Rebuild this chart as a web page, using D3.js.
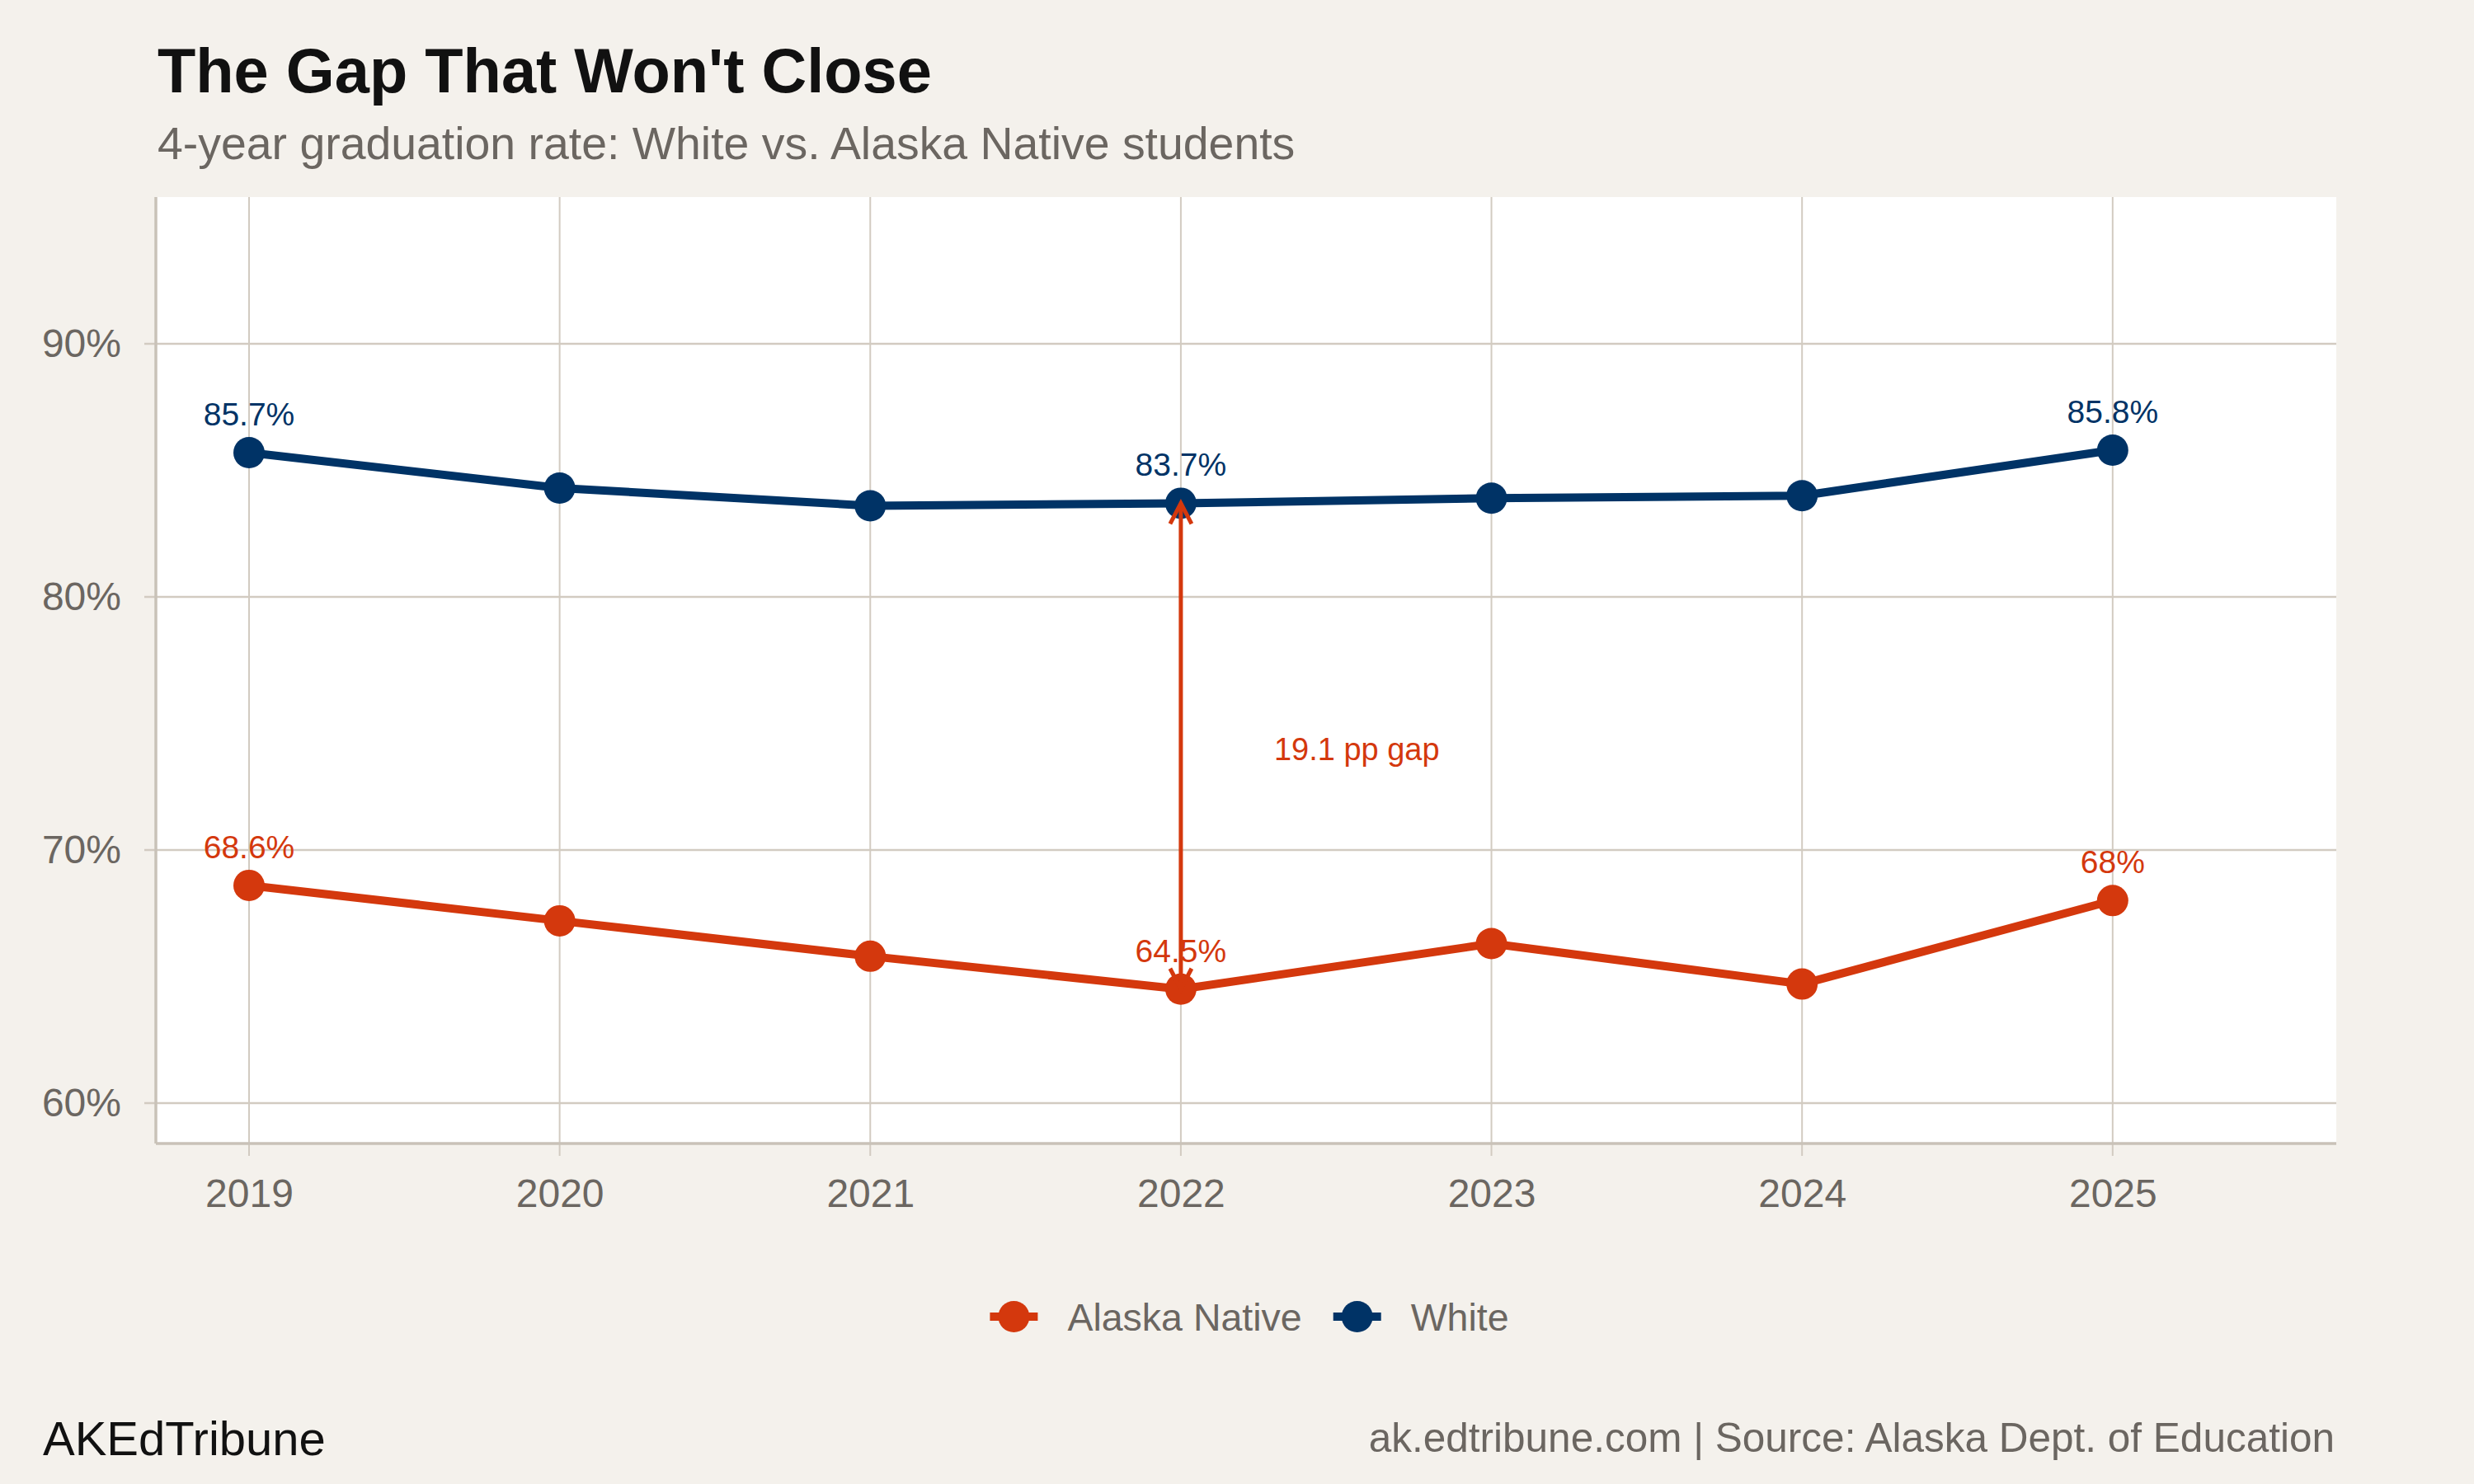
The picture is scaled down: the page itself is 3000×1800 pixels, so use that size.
<!DOCTYPE html>
<html>
<head>
<meta charset="utf-8">
<script src="https://cdn.jsdelivr.net/npm/d3@7"></script>
<style>
  body { margin: 0; background: #F4F1EC; }
  svg { display: block; font-family: "Liberation Sans", Arial, Helvetica, sans-serif; }
</style>
</head>
<body>
<svg id="chart" width="3000" height="1800"></svg>
<script>
// data
var years = [2019, 2020, 2021, 2022, 2023, 2024, 2025]
var whiteRates = [85.7, 84.3, 83.6, 83.7, 83.9, 84.0, 85.8]
var nativeRates = [68.6, 67.2, 65.8, 64.5, 66.3, 64.7, 68.0]
var labelYears = [2019, 2022, 2025]
var yTicks = [60, 70, 80, 90]
var seriesNames = ["Alaska Native", "White"]
var seriesColors = ["#D4380D", "#003366"]
var gapYear = 2022
var gapText = "19.1 pp gap"

var bg = "#F4F1EC"
var gridColor = "#D2CBC1"
var axisColor = "#C9C2B8"
var textGray = "#6B6661"

var margin = { top: 239, right: 167, bottom: 413, left: 189 }
var width = 3000, height = 1800
var chartWidth = width - margin.left - margin.right
var chartHeight = height - margin.top - margin.bottom

var svg = d3.select("#chart")
svg.append("rect").attr("width", width).attr("height", height).attr("fill", bg)

// titles
svg.append("text").attr("x", 191).attr("y", 112)
    .attr("font-size", 75.8).attr("font-weight", "bold").attr("fill", "#111")
    .text("The Gap That Won't Close")
svg.append("text").attr("x", 191).attr("y", 193)
    .attr("font-size", 55.4).attr("fill", textGray)
    .text("4-year graduation rate: White vs. Alaska Native students")

var g = svg.append("g").attr("transform", `translate(${margin.left}, ${margin.top})`)

g.append("rect").attr("width", chartWidth).attr("height", chartHeight).attr("fill", "#fff")

var xScale = d3.scaleLinear().domain([2018.7, 2025.72]).range([0, chartWidth])
var yScale = d3.scaleLinear().domain([58.4, 95.8]).range([chartHeight, 0])

// gridlines
g.append("g").selectAll("line").data(years).enter().append("line")
    .attr("x1", d => xScale(d)).attr("x2", d => xScale(d))
    .attr("y1", 0).attr("y2", chartHeight + 15)
    .attr("stroke", gridColor).attr("stroke-width", 2)
g.append("g").selectAll("line").data(yTicks).enter().append("line")
    .attr("x1", -14).attr("x2", chartWidth)
    .attr("y1", d => yScale(d)).attr("y2", d => yScale(d))
    .attr("stroke", gridColor).attr("stroke-width", 2.5)

// axes (labels only, lines drawn separately)
var xAxis = d3.axisBottom(xScale).tickValues(years).tickFormat(d3.format("d"))
    .tickSize(15).tickPadding(28).tickSizeOuter(0)
var yAxis = d3.axisLeft(yScale).tickValues(yTicks).tickFormat(d => d + "%")
    .tickSize(14).tickPadding(28).tickSizeOuter(0)

var gx = g.append("g").attr("transform", `translate(0,${chartHeight})`).call(xAxis)
var gy = g.append("g").call(yAxis)
;[gx, gy].forEach(function (ax) {
    ax.select(".domain").remove()
    ax.selectAll(".tick line").remove()
    ax.selectAll("text").attr("font-size", 48).attr("fill", textGray)
        .attr("font-family", "Liberation Sans, Arial, sans-serif")
})

g.append("line").attr("x1", 0).attr("x2", 0).attr("y1", 0).attr("y2", chartHeight)
    .attr("stroke", axisColor).attr("stroke-width", 3.5)
g.append("line").attr("x1", 0).attr("x2", chartWidth).attr("y1", chartHeight).attr("y2", chartHeight)
    .attr("stroke", axisColor).attr("stroke-width", 3.5)

// series
var series = [
    { name: seriesNames[0], color: seriesColors[0], values: nativeRates },
    { name: seriesNames[1], color: seriesColors[1], values: whiteRates }
]

var line = d3.line()
    .x((d, i) => xScale(years[i]))
    .y(d => yScale(d))

series.forEach(function (s) {
    g.append("path").datum(s.values)
        .attr("d", line)
        .attr("fill", "none")
        .attr("stroke", s.color)
        .attr("stroke-width", 10)
        .attr("stroke-linejoin", "round")
    g.append("g").selectAll("circle").data(s.values).enter().append("circle")
        .attr("cx", (d, i) => xScale(years[i]))
        .attr("cy", d => yScale(d))
        .attr("r", 19)
        .attr("fill", s.color)
    g.append("g").selectAll("text")
        .data(s.values.filter((d, i) => labelYears.includes(years[i])))
        .enter().append("text")
        .attr("x", (d, i) => xScale(labelYears[i]))
        .attr("y", d => yScale(d) - 33)
        .attr("text-anchor", "middle")
        .attr("font-size", 39)
        .attr("fill", s.color)
        .text(d => d3.format("~f")(d) + "%")
})

// gap arrow
var gi = years.indexOf(gapYear)
var ax = xScale(gapYear)
var yTop = yScale(whiteRates[gi])
var yBot = yScale(nativeRates[gi])
var arrowG = g.append("g").attr("stroke", seriesColors[0]).attr("stroke-width", 5).attr("fill", "none")
arrowG.append("line").attr("x1", ax).attr("x2", ax).attr("y1", yTop).attr("y2", yBot)
arrowG.append("path").attr("d", `M${ax - 13},${yTop + 25}L${ax},${yTop}L${ax + 13},${yTop + 25}`)
arrowG.append("path").attr("d", `M${ax - 13},${yBot - 25}L${ax},${yBot}L${ax + 13},${yBot - 25}`)

g.append("text")
    .attr("x", xScale(gapYear + 0.3))
    .attr("y", yScale((whiteRates[gi] + nativeRates[gi]) / 2))
    .attr("dy", "0.45em")
    .attr("font-size", 38)
    .attr("fill", seriesColors[0])
    .text(gapText)

// legend
var legend = svg.append("g").attr("transform", "translate(0,1597)")
var items = legend.selectAll("g").data(series).enter().append("g")
items.append("line").attr("x1", 0).attr("x2", 58)
    .attr("stroke", d => d.color).attr("stroke-width", 10)
items.append("circle").attr("cx", 29).attr("r", 19).attr("fill", d => d.color)
items.append("text").attr("x", 94).attr("dy", "0.36em")
    .attr("font-size", 46.5).attr("fill", textGray).text(d => d.name)
var pos = 0
var offsets = []
items.each(function (d) {
    offsets.push(pos)
    pos += 94 + d3.select(this).select("text").node().getComputedTextLength() + 38
})
var total = pos - 38
var start = margin.left + chartWidth / 2 - total / 2 + 4
items.attr("transform", (d, i) => `translate(${start + offsets[i]},0)`)

// footer
svg.append("text").attr("x", 52).attr("y", 1765)
    .attr("font-size", 58).attr("fill", "#111").text("AKEdTribune")
svg.append("text").attr("x", 2831).attr("y", 1761)
    .attr("text-anchor", "end")
    .attr("font-size", 49.5).attr("fill", textGray)
    .text("ak.edtribune.com | Source: Alaska Dept. of Education")
</script>
</body>
</html>
